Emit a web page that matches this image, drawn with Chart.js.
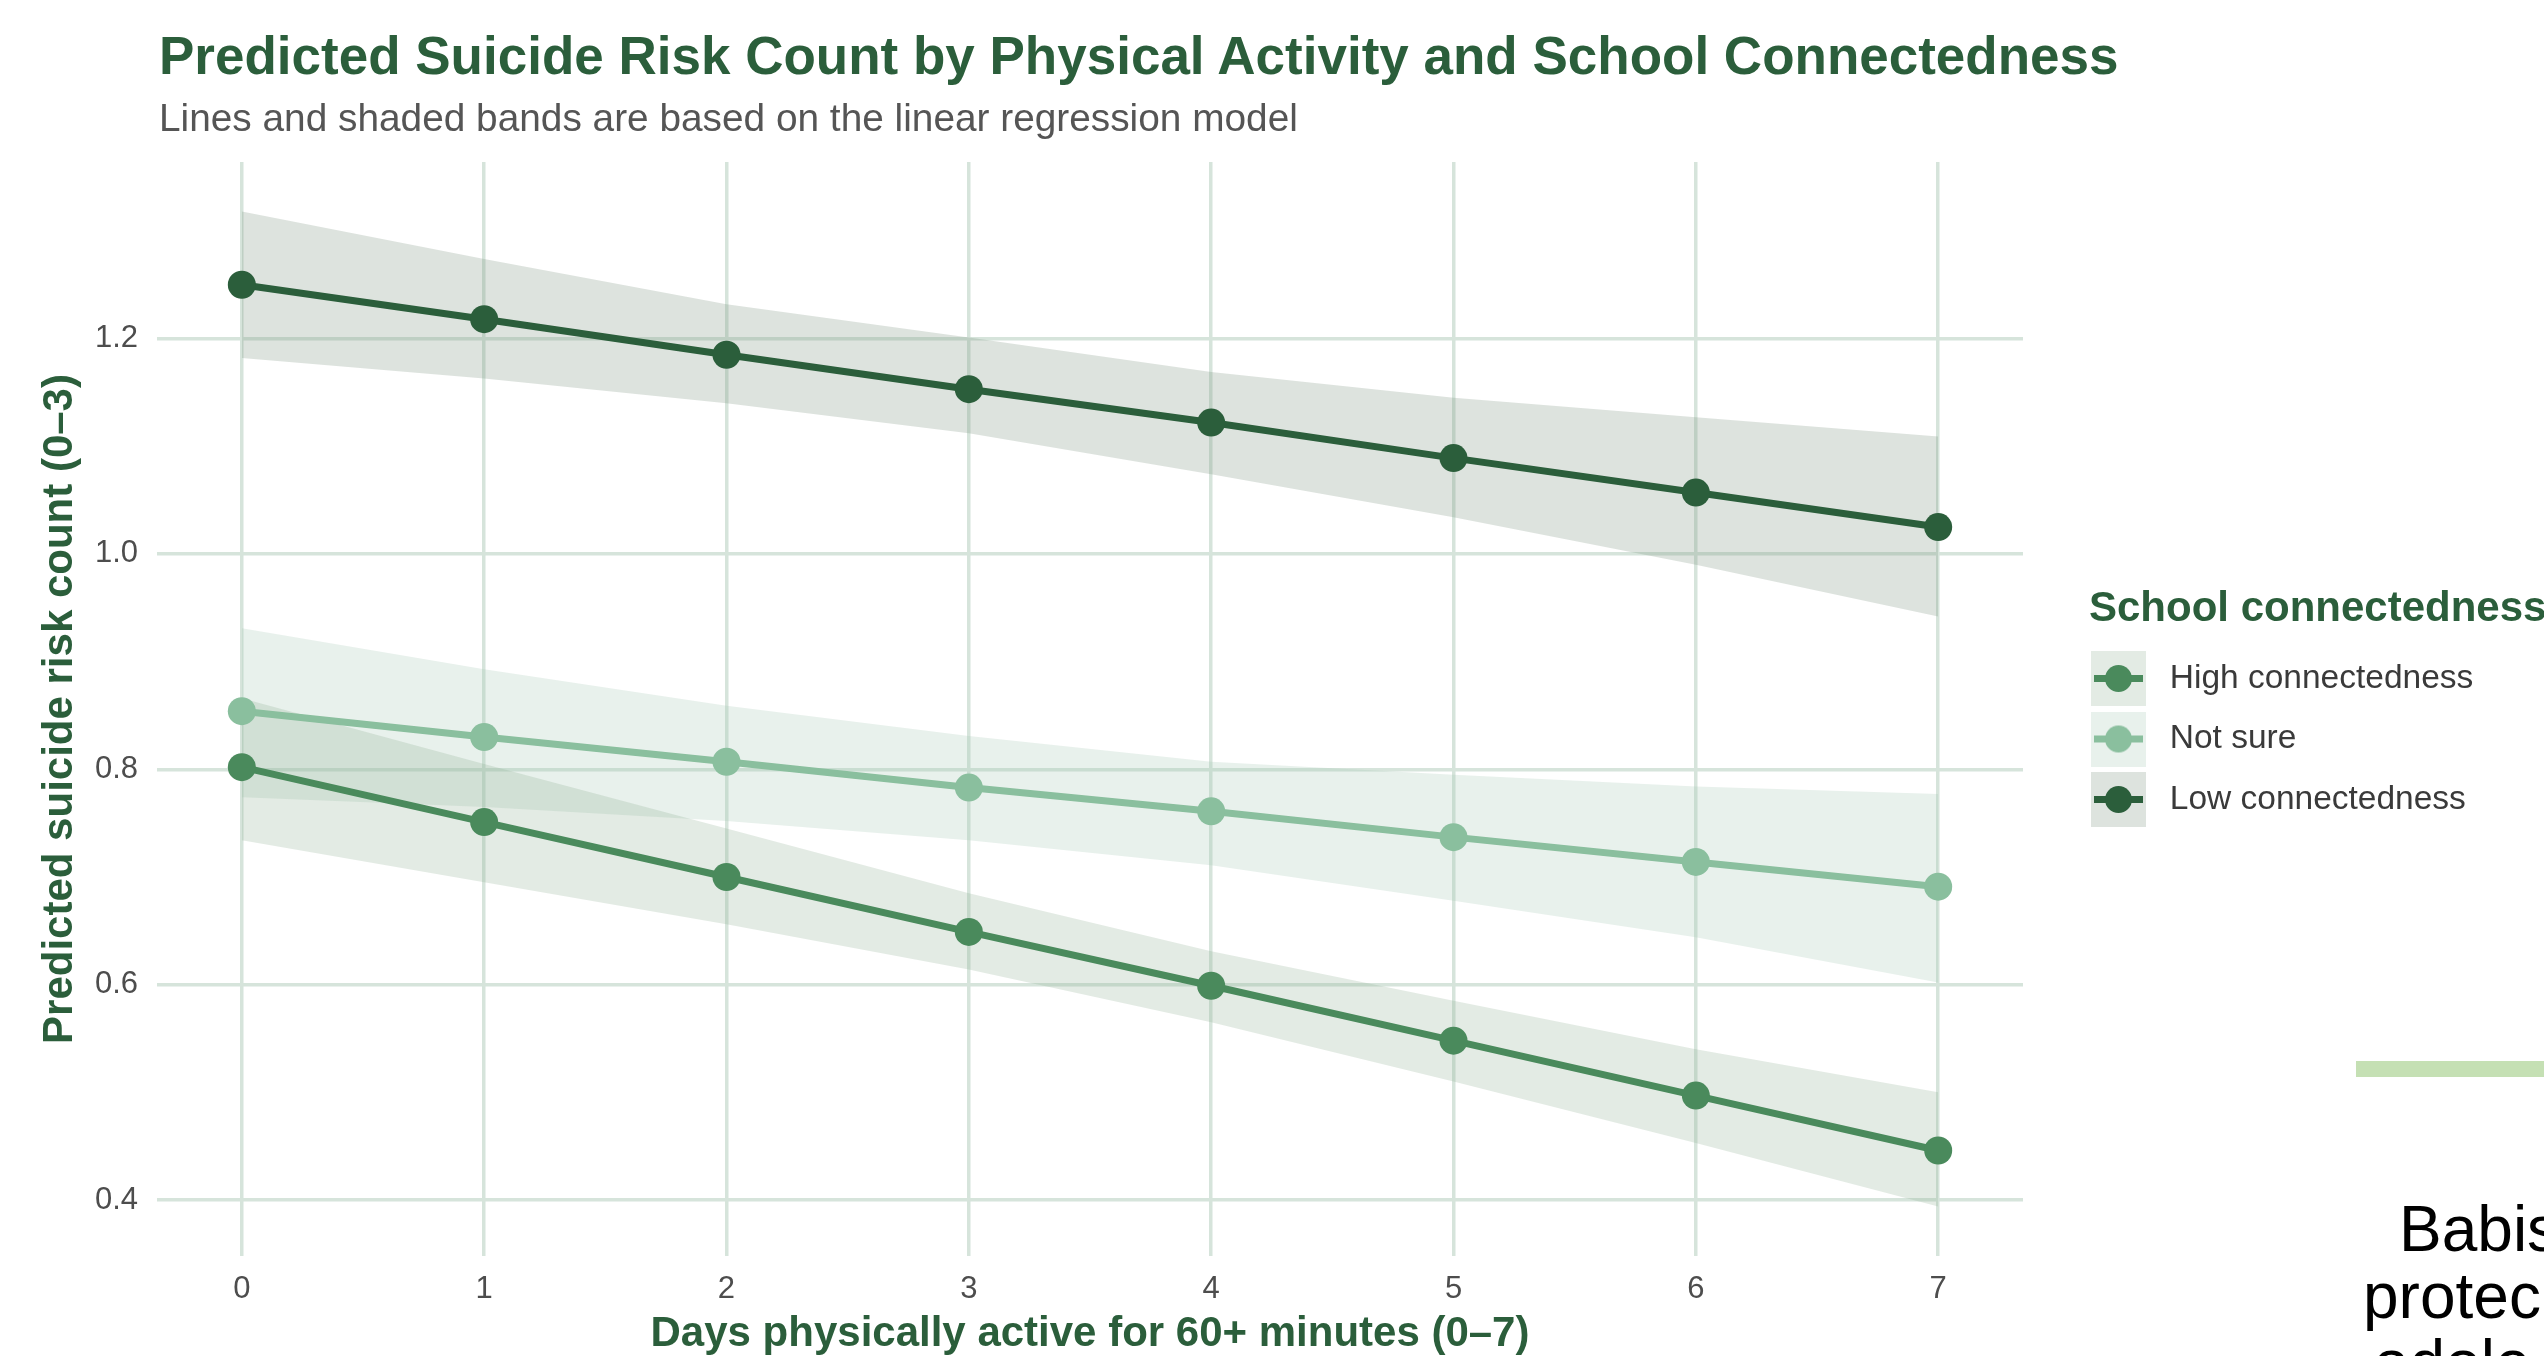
<!DOCTYPE html>
<html>
<head>
<meta charset="utf-8">
<script src="https://cdn.jsdelivr.net/npm/chart.js@4/dist/chart.umd.min.js"></script>
<style>
html,body{margin:0;padding:0;background:#fff;overflow:hidden;width:2544px;height:1356px;}
#wrap{position:relative;width:2544px;height:1356px;overflow:hidden;font-family:"Liberation Sans",Arial,Helvetica,sans-serif;}
#c{position:absolute;left:0;top:0;}
.t{position:absolute;white-space:nowrap;line-height:1;}
</style>
</head>
<body>
<div id="wrap">
<canvas id="c" width="2544" height="1356"></canvas>
<div class="t" style="left:159px;top:29px;font-size:53px;font-weight:bold;color:#2b5e3b;">Predicted Suicide Risk Count by Physical Activity and School Connectedness</div>
<div class="t" style="left:159px;top:99px;font-size:38.8px;color:#555555;">Lines and shaded bands are based on the linear regression model</div>
<div style="position:absolute;left:2356px;top:1061px;width:200px;height:16px;background:#c5e0b4;"></div>
<div class="t" style="left:2399px;top:1197px;font-size:64px;color:#000;">Babis</div>
<div class="t" style="left:2363px;top:1264px;font-size:64px;color:#000;">protec</div>
<div class="t" style="left:2374px;top:1331px;font-size:64px;color:#000;">adole</div>
</div>
<script>
// ---- data ----
const days = [0, 1, 2, 3, 4, 5, 6, 7];
const groupNames = ['High connectedness', 'Not sure', 'Low connectedness'];
const highFit      = [0.802, 0.751, 0.700, 0.649, 0.599, 0.548, 0.497, 0.446];
const highUpper    = [0.866, 0.805, 0.745, 0.685, 0.631, 0.585, 0.540, 0.500];
const highLower    = [0.734, 0.695, 0.656, 0.614, 0.565, 0.510, 0.453, 0.394];
const notSureFit   = [0.854, 0.830, 0.807, 0.783, 0.761, 0.737, 0.714, 0.691];
const notSureUpper = [0.931, 0.893, 0.859, 0.831, 0.807, 0.795, 0.784, 0.777];
const notSureLower = [0.774, 0.765, 0.752, 0.734, 0.711, 0.678, 0.644, 0.602];
const lowFit       = [1.250, 1.218, 1.185, 1.153, 1.122, 1.089, 1.057, 1.025];
const lowUpper     = [1.318, 1.274, 1.232, 1.201, 1.169, 1.145, 1.127, 1.109];
const lowLower     = [1.182, 1.163, 1.140, 1.112, 1.074, 1.034, 0.990, 0.942];
const xTicks = [0, 1, 2, 3, 4, 5, 6, 7];
const yTicks = [0.4, 0.6, 0.8, 1.0, 1.2];

// ---- styles ----
const FONT = '"Liberation Sans", Arial, Helvetica, sans-serif';
const DARK = '#2b5e3b';
const lineColors = {high: '#4a8a5c', notSure: '#8abf9e', low: '#2b5e3b'};
const bandColors = {high: 'rgba(143,175,147,0.25)', notSure: 'rgba(163,199,179,0.25)', low: 'rgba(119,143,123,0.25)'};
const GRID = 'rgb(214,228,219)';
const TARGET_RIGHT = 2023;
const LEGEND_LEFT = 2089;
const LEGEND_FONT = 33.5;
const LEGEND_PAD = 27;
const KEY_W = 37;

Chart.defaults.font.family = FONT;

const xy = arr => days.map((d, i) => ({x: d, y: arr[i]}));

function keyCanvas(lineColor, bandColor) {
  const c = document.createElement('canvas');
  c.width = 87; c.height = 55;
  const g = c.getContext('2d');
  g.fillStyle = '#ffffff'; g.fillRect(0, 0, 55, 55);
  g.fillStyle = bandColor; g.fillRect(0, 0, 55, 55);
  g.strokeStyle = lineColor; g.lineWidth = 7;
  g.beginPath(); g.moveTo(3, 27.5); g.lineTo(52, 27.5); g.stroke();
  g.fillStyle = lineColor;
  g.beginPath(); g.arc(27.5, 27.5, 13.5, 0, Math.PI * 2); g.fill();
  return c;
}
const keys = [
  keyCanvas(lineColors.high, bandColors.high),
  keyCanvas(lineColors.notSure, bandColors.notSure),
  keyCanvas(lineColors.low, bandColors.low)
];

function lineDs(label, data, color) {
  return {label, data: xy(data), borderColor: color, backgroundColor: color,
    pointBackgroundColor: color, pointBorderWidth: 0, pointRadius: 14,
    borderWidth: 7, fill: false, tension: 0};
}
function bandDs(label, data, color, fill) {
  return {label, data: xy(data), borderColor: 'transparent', borderWidth: 0,
    backgroundColor: color, pointRadius: 0, fill: fill, tension: 0};
}

const datasets = [
  lineDs(groupNames[2], lowFit, lineColors.low),          // 0
  lineDs(groupNames[1], notSureFit, lineColors.notSure),  // 1
  lineDs(groupNames[0], highFit, lineColors.high),        // 2
  bandDs('band-high-up', highUpper, bandColors.high, '+1'),
  bandDs('band-high-lo', highLower, bandColors.high, false),
  bandDs('band-ns-up', notSureUpper, bandColors.notSure, '+1'),
  bandDs('band-ns-lo', notSureLower, bandColors.notSure, false),
  bandDs('band-low-up', lowUpper, bandColors.low, '+1'),
  bandDs('band-low-lo', lowLower, bandColors.low, false)
];

// estimate legend width to place chart area right edge
const mc = document.createElement('canvas').getContext('2d');
mc.font = LEGEND_FONT + 'px ' + FONT;
const maxText = Math.max(...groupNames.map(t => mc.measureText(t).width));
const legendW = LEGEND_PAD + KEY_W + LEGEND_FONT / 2 + maxText + 10;
const padding = {top: 162, left: 0, right: Math.max(0, 2544 - TARGET_RIGHT - legendW), bottom: 0};

const legendNudge = {
  id: 'legendNudge',
  afterLayout(chart) {
    const lg = chart.legend;
    if (!lg) return;
    lg.left = LEGEND_LEFT;
    lg.right = chart.width + 60;
    lg.width = lg.right - lg.left;
  }
};

const options = {
  responsive: false,
  animation: false,
  events: [],
  layout: {padding: padding},
  plugins: {
    filler: {drawTime: 'beforeDatasetsDraw'},
    tooltip: {enabled: false},
    title: {display: false},
    legend: {
      position: 'right',
      align: 'center',
      fullSize: false,
      title: {display: true, text: 'School connectedness', color: DARK, position: 'start',
        font: {size: 42, weight: 'bold', lineHeight: 1}, padding: {top: 14, bottom: 4}},
      labels: {
        usePointStyle: true, pointStyleWidth: KEY_W, padding: LEGEND_PAD,
        color: '#3a3a3a', font: {size: LEGEND_FONT},
        generateLabels: () => [
          {text: groupNames[0], pointStyle: keys[0], datasetIndex: 2, hidden: false, lineWidth: 0, strokeStyle: 'transparent', fillStyle: 'transparent', fontColor: '#3a3a3a'},
          {text: groupNames[1], pointStyle: keys[1], datasetIndex: 1, hidden: false, lineWidth: 0, strokeStyle: 'transparent', fillStyle: 'transparent', fontColor: '#3a3a3a'},
          {text: groupNames[2], pointStyle: keys[2], datasetIndex: 0, hidden: false, lineWidth: 0, strokeStyle: 'transparent', fillStyle: 'transparent', fontColor: '#3a3a3a'}
        ]
      }
    }
  },
  scales: {
    x: {
      type: 'linear', min: -0.35, max: 7.35,
      afterBuildTicks: s => { s.ticks = xTicks.map(v => ({value: v})); },
      afterFit: s => { s.height = 100; },
      grid: {color: GRID, lineWidth: 3.5, drawTicks: false},
      border: {display: false},
      ticks: {padding: 15, color: '#4d4d4d', font: {size: 31}, callback: v => String(v)},
      title: {display: true, text: 'Days physically active for 60+ minutes (0–7)', color: DARK,
        font: {size: 42, weight: 'bold', lineHeight: 1}, padding: {top: 0, bottom: 1}}
    },
    y: {
      type: 'linear', min: 0.348, max: 1.364,
      afterBuildTicks: s => { s.ticks = yTicks.map(v => ({value: v})); },
      afterFit: s => { s.width = 157; },
      grid: {color: GRID, lineWidth: 3.5, drawTicks: false},
      border: {display: false},
      ticks: {padding: 19, color: '#4d4d4d', font: {size: 31}, callback: v => Number(v).toFixed(1)},
      title: {display: true, text: 'Predicted suicide risk count (0–3)', color: DARK,
        font: {size: 42, weight: 'bold', lineHeight: 1}, padding: {top: 39, bottom: 0}}
    }
  }
};

const chart = new Chart(document.getElementById('c'), {
  type: 'line',
  data: {datasets},
  options,
  plugins: [legendNudge]
});
const dr = chart.chartArea.right - TARGET_RIGHT;
if (Math.abs(dr) > 0.5) {
  chart.config.options.layout.padding.right = Math.max(0, chart.config.options.layout.padding.right + dr);
  chart.update('none');
}
</script>
</body>
</html>
